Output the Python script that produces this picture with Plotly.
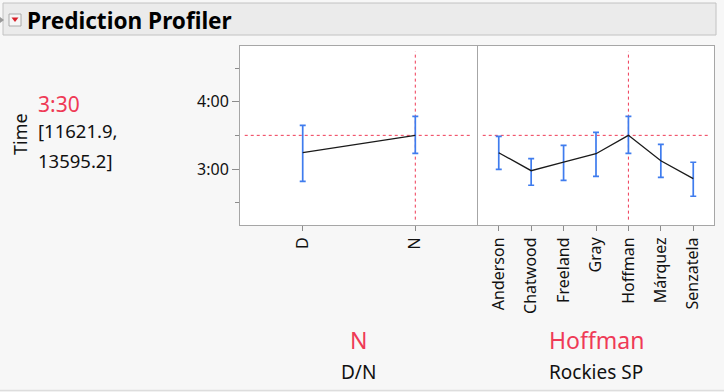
import plotly.graph_objects as go

W, H = 724, 392

# ---- data (minutes) ----
dn_cats = ["D", "N"]
dn_mean = [194.5, 210.0]
dn_hi = [218.9, 227.0]
dn_lo = [169.0, 194.0]

sp_cats = ["Anderson", "Chatwood", "Freeland", "Gray", "Hoffman", "Márquez", "Senzatela"]
sp_mean = [194.5, 178.5, 186.2, 193.6, 210.0, 187.4, 171.4]
sp_hi = [209.1, 189.2, 201.1, 212.7, 227.0, 202.0, 186.0]
sp_lo = [179.7, 165.5, 169.9, 173.5, 194.0, 172.6, 155.7]

y_tickvals = [180, 240]
y_ticktext = ["3:00", "4:00"]
y_minor = [150, 210, 270]
ref_y = 210

FONT = "Noto Sans"
RED = "#ef3a56"
BLUE = "#3f7cee"


def px(x):
    return x / W


def py(y):
    return 1 - y / H


fig = go.Figure()

def add_profile(cats, mean, hi, lo, xa, ya):
    fig.add_trace(go.Scatter(
        x=cats, y=mean, mode="lines", xaxis=xa, yaxis=ya,
        line=dict(color="#1a1a1a", width=1.3),
        error_y=dict(type="data", symmetric=False,
                     array=[h - m for h, m in zip(hi, mean)],
                     arrayminus=[m - l for m, l in zip(mean, lo)],
                     color=BLUE, thickness=1.7, width=3),
        hoverinfo="skip", showlegend=False,
    ))

add_profile(dn_cats, dn_mean, dn_hi, dn_lo, "x", "y")
add_profile(sp_cats, sp_mean, sp_hi, sp_lo, "x2", "y2")

axis_common = dict(
    type="category", showgrid=False, zeroline=False,
    showline=True, linecolor="#a6a6a6", linewidth=1, mirror=True,
    ticks="outside", ticklen=5, tickcolor="#8c8c8c",
    tickangle=-90, tickfont=dict(family=FONT, size=16, color="#111"),
)

ydom = [py(225), py(46)]

fig.update_layout(
    width=W, height=H,
    margin=dict(l=0, r=0, t=0, b=0),
    paper_bgcolor="#f7f7f7", plot_bgcolor="white",
    font=dict(family=FONT, color="#111"),
    xaxis=dict(axis_common, domain=[px(240), px(477)],
               categoryorder="array", categoryarray=dn_cats,
               range=[-0.557, 1.548], anchor="y"),
    xaxis2=dict(axis_common, domain=[px(478), px(714)],
                categoryorder="array", categoryarray=sp_cats,
                range=[-0.64, 6.64], anchor="y2"),
    yaxis=dict(domain=ydom, range=[130.07, 289.66], anchor="x",
               showgrid=False, zeroline=False,
               showline=True, linecolor="#a6a6a6", mirror=True,
               tickvals=y_tickvals, ticktext=y_ticktext,
               ticks="outside", ticklen=7, tickcolor="#8c8c8c",
               tickfont=dict(family=FONT, size=16, color="#111"),
               minor=dict(tickvals=y_minor, ticks="outside", ticklen=4, tickcolor="#8c8c8c")),
    yaxis2=dict(domain=ydom, range=[130.07, 289.66], anchor="x2",
                matches="y", showgrid=False, zeroline=False,
                showline=True, linecolor="#a6a6a6", mirror=True,
                showticklabels=False, ticks=""),
)

shapes = []
# header bar
shapes.append(dict(type="rect", xref="paper", yref="paper",
                   x0=px(3), x1=px(716), y0=py(35), y1=py(3),
                   fillcolor="#ebebeb", line=dict(color="#c2c2c2", width=1), layer="below"))
# disclosure triangle
shapes.append(dict(type="path", xref="paper", yref="paper",
                   path=f"M {px(0)},{py(17)} L {px(4)},{py(20)} L {px(0)},{py(23)} Z",
                   fillcolor="#9a9a9a", line=dict(width=0)))
# red menu icon box
shapes.append(dict(type="rect", xref="paper", yref="paper",
                   x0=px(9), x1=px(21), y0=py(26), y1=py(14),
                   fillcolor="#f6f6f6", line=dict(color="#aaaaaa", width=1)))
shapes.append(dict(type="path", xref="paper", yref="paper",
                   path=f"M {px(11.5)},{py(17.5)} L {px(18.5)},{py(17.5)} L {px(15)},{py(22)} Z",
                   fillcolor="#d8202a", line=dict(width=0)))
# bottom separator
shapes.append(dict(type="line", xref="paper", yref="paper",
                   x0=0, x1=1, y0=py(390.5), y1=py(390.5),
                   line=dict(color="#dddddd", width=1.5)))
# reference lines
for xa, ya, cat in [("x", "y", "N"), ("x2", "y2", "Hoffman")]:
    shapes.append(dict(type="line", xref=f"{xa} domain", yref=ya,
                       x0=0.02, x1=0.98, y0=ref_y, y1=ref_y,
                       line=dict(color=RED, width=1, dash="dot"), layer="below"))
    shapes.append(dict(type="line", xref=xa, yref=f"{ya} domain",
                       x0=cat, x1=cat, y0=0.03, y1=0.97,
                       line=dict(color=RED, width=1, dash="dot"), layer="below"))
fig.update_layout(shapes=shapes)

ann = []
ann.append(dict(text="<b>Prediction Profiler</b>", x=px(25), y=py(20.5), xref="paper", yref="paper",
                xanchor="left", yanchor="middle", showarrow=False,
                font=dict(family=FONT, size=22.6, color="#000")))
ann.append(dict(text="Time", x=px(20), y=py(134), xref="paper", yref="paper",
                textangle=-90, xanchor="center", yanchor="middle", showarrow=False,
                font=dict(family=FONT, size=18, color="#111")))
ann.append(dict(text="3:30", x=px(36), y=py(104), xref="paper", yref="paper",
                xanchor="left", yanchor="middle", showarrow=False,
                font=dict(family=FONT, size=21, color=RED)))
ann.append(dict(text="[11621.9,", x=px(36), y=py(131), xref="paper", yref="paper",
                xanchor="left", yanchor="middle", showarrow=False,
                font=dict(family=FONT, size=18.5, color="#111")))
ann.append(dict(text="13595.2]", x=px(36), y=py(160), xref="paper", yref="paper",
                xanchor="left", yanchor="middle", showarrow=False,
                font=dict(family=FONT, size=18.5, color="#111")))
for cx, cur, lab in [(358.5, "N", "D/N"), (596, "Hoffman", "Rockies SP")]:
    ann.append(dict(text=cur, x=px(cx), y=py(340), xref="paper", yref="paper",
                    xanchor="center", yanchor="middle", showarrow=False,
                    font=dict(family=FONT, size=23, color=RED)))
    ann.append(dict(text=lab, x=px(cx), y=py(372), xref="paper", yref="paper",
                    xanchor="center", yanchor="middle", showarrow=False,
                    font=dict(family=FONT, size=19, color="#111")))
fig.update_layout(annotations=ann)

fig.write_html("out.html", config={"displayModeBar": False},
               post_script="document.body.style.margin='0';document.body.style.overflow='hidden';")
